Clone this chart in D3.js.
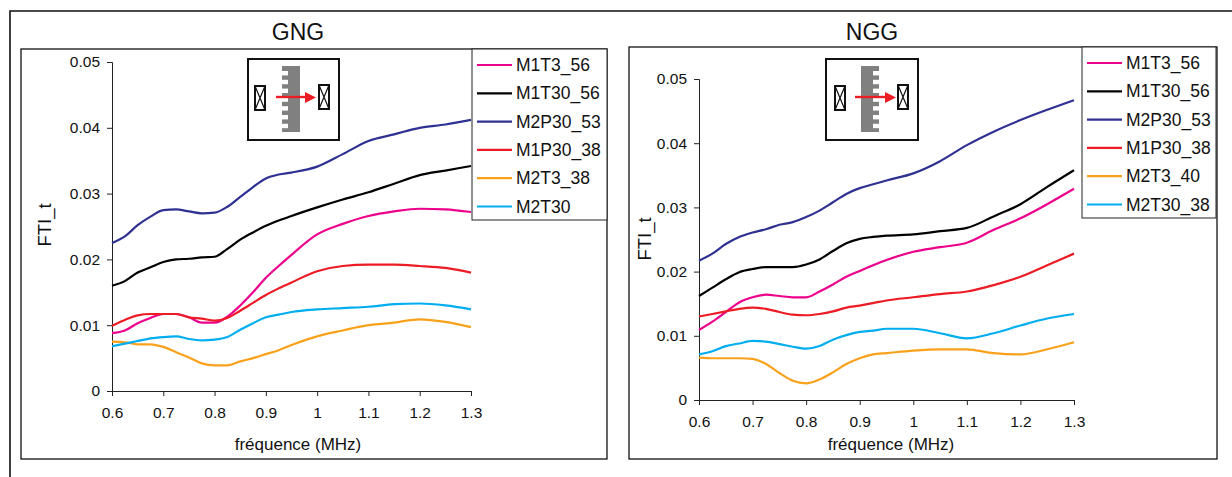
<!DOCTYPE html>
<html><head><meta charset="utf-8">
<script src="https://cdn.jsdelivr.net/npm/d3@7"></script>
<style>
html,body{margin:0;padding:0;background:#fff;overflow:hidden}
svg{display:block}
text{font-family:"Liberation Sans",Arial,sans-serif;fill:#111}
</style></head><body>
<svg id="c" width="1232" height="477"></svg>
<script>
const freq = [.6,.625,.65,.675,.7,.725,.75,.775,.8,.825,.85,.875,.9,.925,.95,1,1.05,1.1,1.15,1.2,1.25,1.3];
const xTicks = [.6,.7,.8,.9,1,1.1,1.2,1.3];
const yTicks = [0,.01,.02,.03,.04,.05];
const colors = ["#ec008c","#000000","#2e3192","#ed1c24","#f9a11b","#00aeef"];

const gngNames = ["M1T3_56","M1T30_56","M2P30_53","M1P30_38","M2T3_38","M2T30"];
const gngM1T3  = [.0088,.0092,.0103,.0111,.0117,.0117,.0112,.0104,.0104,.0113,.0130,.0150,.0172,.0190,.0207,.0238,.0254,.0266,.0273,.0277,.0276,.0272];
const gngM1T30 = [.0160,.0167,.0180,.0188,.0196,.0200,.0201,.0203,.0204,.0216,.0230,.0241,.0251,.0259,.0266,.0279,.0291,.0302,.0315,.0328,.0335,.0342];
const gngM2P30 = [.0225,.0235,.0252,.0265,.0275,.0276,.0273,.0270,.0271,.0280,.0295,.0310,.0323,.0329,.0332,.0341,.0360,.0380,.0390,.0400,.0405,.0412];
const gngM1P30 = [.0099,.0108,.0115,.0117,.0117,.0117,.0112,.0110,.0107,.0111,.0122,.0134,.0146,.0156,.0165,.0182,.0190,.0192,.0192,.0190,.0187,.0180];
const gngM2T3  = [.0075,.0074,.0071,.0071,.0067,.0059,.0051,.0042,.0039,.0039,.0045,.0050,.0056,.0062,.0070,.0083,.0092,.0100,.0104,.0109,.0105,.0097];
const gngM2T30 = [.0068,.0072,.0076,.0080,.0082,.0083,.0079,.0077,.0078,.0082,.0093,.0103,.0112,.0116,.0120,.0124,.0126,.0128,.0132,.0133,.0130,.0124];

const nggNames = ["M1T3_56","M1T30_56","M2P30_53","M1P30_38","M2T3_40","M2T30_38"];
const nggM1T3  = [.0109,.0122,.0137,.0152,.0160,.0164,.0162,.0160,.0160,.0169,.0180,.0192,.0201,.0210,.0218,.0231,.0238,.0245,.0265,.0283,.0305,.0329];
const nggM1T30 = [.0162,.0175,.0188,.0199,.0204,.0207,.0207,.0207,.0211,.0219,.0232,.0244,.0251,.0254,.0256,.0258,.0263,.0268,.0286,.0305,.0332,.0358];
const nggM2P30 = [.0217,.0228,.0243,.0254,.0261,.0266,.0273,.0277,.0285,.0295,.0308,.0321,.0330,.0336,.0342,.0353,.0372,.0397,.0418,.0436,.0452,.0467];
const nggM1P30 = [.0130,.0134,.0138,.0142,.0144,.0142,.0137,.0133,.0132,.0134,.0138,.0144,.0147,.0151,.0155,.0160,.0165,.0169,.0179,.0192,.0210,.0228];
const nggM2T3  = [.0066,.0065,.0065,.0065,.0064,.0056,.0042,.0030,.0026,.0032,.0043,.0056,.0065,.0071,.0073,.0077,.0079,.0079,.0073,.0071,.0079,.0090];
const nggM2T30 = [.0071,.0076,.0084,.0088,.0092,.0091,.0087,.0083,.0080,.0084,.0094,.0101,.0106,.0108,.0111,.0111,.0104,.0096,.0104,.0116,.0127,.0134];

const svg = d3.select("#c");
svg.append("path").attr("d","M1232 11H10V477").attr("fill","none").attr("stroke","#111").attr("stroke-width",1.6);

function panel(o){
  const g = svg.append("g");
  g.append("rect").attr("x",o.box[0]).attr("y",o.box[1]).attr("width",o.box[2]-o.box[0]).attr("height",o.box[3]-o.box[1])
    .attr("fill","#fff").attr("stroke","#111").attr("stroke-width",1.3);
  const x = d3.scaleLinear().domain([.6,1.3]).range(o.xr);
  const y = d3.scaleLinear().domain([0,.05]).range(o.yr);
  const ax = g.append("g").attr("transform",`translate(0,${o.yr[0]})`)
    .call(d3.axisBottom(x).tickValues(xTicks).tickSize(5).tickPadding(o.xpad).tickFormat(d3.format("~g")));
  const ay = g.append("g").attr("transform",`translate(${o.xr[0]},0)`)
    .call(d3.axisLeft(y).tickValues(yTicks).tickSize(5).tickPadding(7).tickFormat(d3.format("~g")));
  [ax,ay].forEach(a=>{a.selectAll("text").style("font-size","15.5px").style("font-family",'"Liberation Sans"').attr("fill","#111");
    a.selectAll("line,path").attr("stroke","#222");});
  const line = d3.line().x((d,i)=>x(freq[i])).y(d=>y(d)).curve(d3.curveMonotoneX);
  o.series.forEach((s,i)=>g.append("path").attr("d",line(s)).attr("fill","none").attr("stroke",colors[i]).attr("stroke-width",2.2));

  g.append("text").attr("x",o.tx).attr("y",40).attr("text-anchor","middle").style("font-size","23px").text(o.title);
  g.append("text").attr("x",o.xl).attr("y",450).attr("text-anchor","middle").style("font-size","17px").text("fréquence (MHz)");
  g.append("text").attr("transform",`translate(${o.yl[0]},${o.yl[1]}) rotate(-90)`).attr("text-anchor","middle").style("font-size","18.5px").text("FTI_t");

  // legend
  const [lx0,ly0,lx1,ly1] = o.leg;
  g.append("rect").attr("x",lx0).attr("y",ly0).attr("width",lx1-lx0).attr("height",ly1-ly0).attr("fill","#fff").attr("stroke","#222").attr("stroke-width",1);
  o.names.forEach((n,i)=>{
    const yy = o.ly + i*28.3;
    g.append("line").attr("x1",lx0+5).attr("x2",lx0+40).attr("y1",yy).attr("y2",yy).attr("stroke",colors[i]).attr("stroke-width",2.2);
    g.append("text").attr("x",lx0+44).attr("y",yy+6).style("font-size","17.5px").text(n);
  });

  // inset schematic
  const [a,b,c,d] = o.inset;
  const ins = g.append("g");
  ins.append("rect").attr("x",a).attr("y",b).attr("width",c-a).attr("height",d-b).attr("fill","#fff").attr("stroke","#111").attr("stroke-width",2);
  ins.append("rect").attr("x",o.bar[0]).attr("y",66).attr("width",18).attr("height",66).attr("fill","#808080");
  d3.range(7).forEach(k=>{
    ins.append("rect").attr("x",o.notchX).attr("y",71+k*8.8).attr("width",6).attr("height",4.4).attr("fill","#fff");
  });
  o.coils.forEach(([cx,cy])=>{
    ins.append("rect").attr("x",cx).attr("y",cy).attr("width",10).attr("height",24).attr("fill","#fff").attr("stroke","#111").attr("stroke-width",2);
    ins.append("path").attr("d",`M${cx} ${cy}L${cx+10} ${cy+24}M${cx+10} ${cy}L${cx} ${cy+24}`).attr("stroke","#111").attr("stroke-width",1.2);
  });
  const [ar0,ar1] = o.arrow;
  ins.append("line").attr("x1",ar0).attr("x2",ar1-10).attr("y1",97).attr("y2",97).attr("stroke","#ed1c24").attr("stroke-width",2.4);
  ins.append("path").attr("d",`M${ar1-11} 92L${ar1} 97.5L${ar1-11} 103Z`).attr("fill","#ed1c24");
}

panel({box:[21,49,607,459],xr:[112,471],yr:[391,62],xpad:11,title:"GNG",tx:298,xl:298,yl:[51,225],
  names:gngNames,series:[gngM1T3,gngM1T30,gngM2P30,gngM1P30,gngM2T3,gngM2T30],leg:[472,49,607,220],ly:65,
  inset:[248,59,339,140],bar:[282],notchX:282,coils:[[255,86],[319,85]],arrow:[276,316]});
panel({box:[629,47,1217,459],xr:[699,1074],yr:[400,79],xpad:11,title:"NGG",tx:872,xl:891,yl:[651,239],
  names:nggNames,series:[nggM1T3,nggM1T30,nggM2P30,nggM1P30,nggM2T3,nggM2T30],leg:[1082,47,1216,218],ly:63,
  inset:[826,59,918,140],bar:[861],notchX:873,coils:[[835,86],[898,85]],arrow:[855,896]});
</script>
</body></html>
